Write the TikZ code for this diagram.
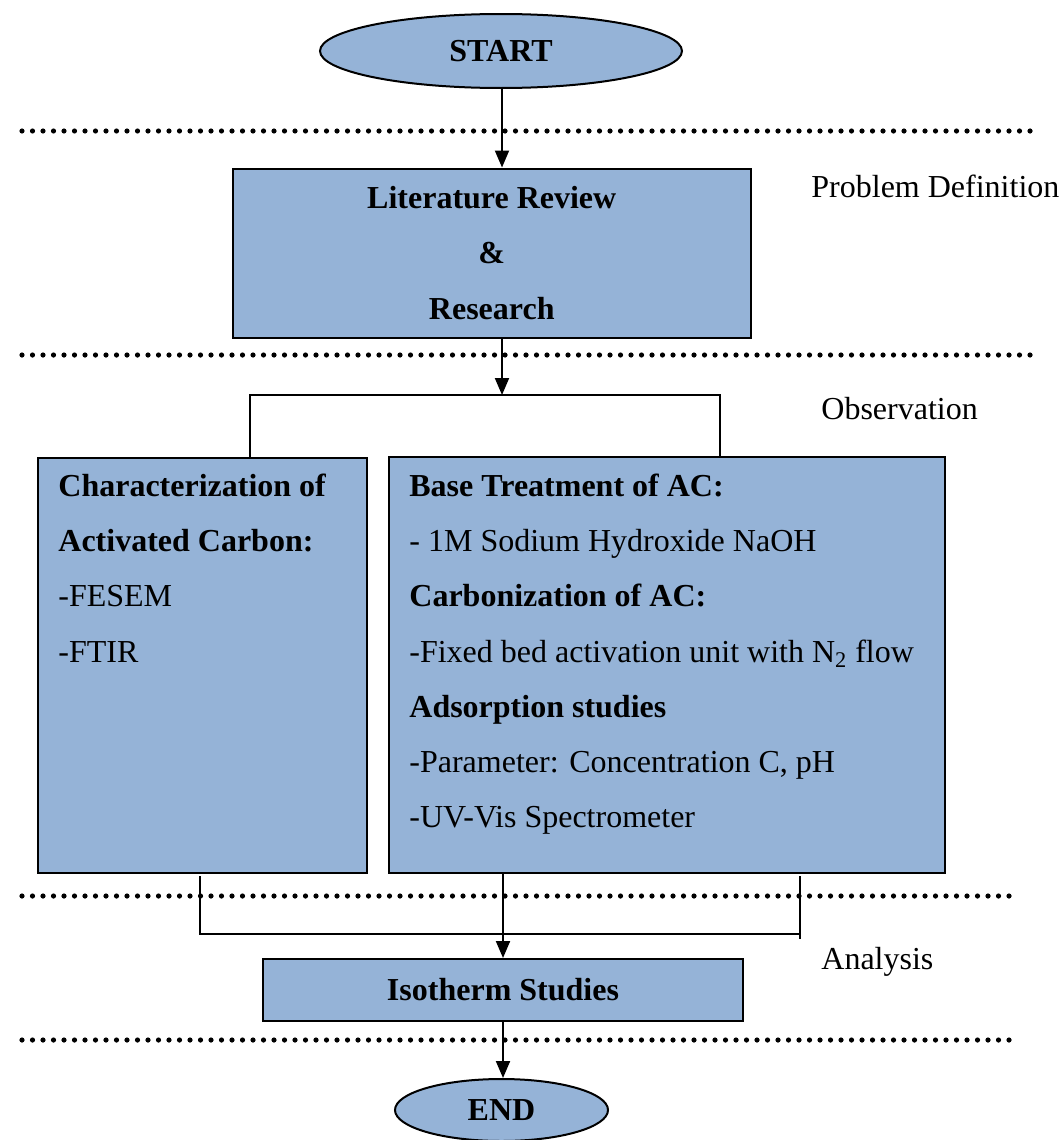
\documentclass[tikz,border=0pt]{standalone}
\usepackage{fontspec}
\setmainfont{Liberation Serif}
\usetikzlibrary{arrows.meta,shapes.geometric}
\definecolor{boxblue}{HTML}{95B3D7}
\begin{document}
\begin{tikzpicture}[x=0.5pt,y=-0.5pt,
  font=\fontsize{16}{27.65}\selectfont,
  blk/.style={draw=black, line width=1pt, fill=boxblue, inner sep=0pt},
  oval/.style={ellipse, draw=black, line width=1pt, fill=boxblue, inner sep=0pt},
  conn/.style={line width=1pt},
  arr/.style={conn, -{Triangle[width=7pt,length=8.5pt]}},
  sepline/.style={line width=2.6pt, line cap=round, dash pattern=on 0pt off 5.25pt},
  lbl/.style={anchor=base west, inner sep=0pt},
  txt/.style={align=left, anchor=north west, inner sep=0pt}]
\useasboundingbox (0,0) rectangle (1061,1140);

% separators
\draw[sepline] (22,131) -- (1032,131);
\draw[sepline] (22,355) -- (1032,355);
\draw[sepline] (22,896) -- (1010,896);
\draw[sepline] (22,1040) -- (1010,1040);

% nodes
\node[oval, minimum width=181pt, minimum height=37pt] (start) at (501,51) {\textbf{START}};
\node[blk, minimum width=259pt, minimum height=84.5pt, align=center] (lit) at (491.75,253)
  {\textbf{Literature Review}\\\textbf{\&}\\\textbf{Research}};
\node[blk, anchor=north west, minimum width=164.5pt, minimum height=207.5pt] (lbox) at (37,457) {};
\node[blk, anchor=north west, minimum width=278pt, minimum height=208pt] (rbox) at (388,456) {};
\node[txt] (ltext) at (58,457) {\strut\textbf{Characterization of}\\\textbf{Activated Carbon:}\\-FESEM\\-FTIR};
\node[txt] (rtext) at (409,457) {\strut\textbf{Base Treatment of AC:}\\- 1M Sodium Hydroxide NaOH\\\textbf{Carbonization of AC:}\\-Fixed bed activation unit with N\textsubscript{2} flow\\\textbf{Adsorption studies}\\-Parameter: Concentration C, pH\\-UV-Vis Spectrometer};
\node[blk, minimum width=240pt, minimum height=31pt] (iso) at (503,990) {\textbf{Isotherm Studies}};
\node[oval, minimum width=106.5pt, minimum height=31pt] (end) at (501.5,1110) {\textbf{END}};

% labels
\node[lbl] (pd) at (811,197) {Problem Definition};
\node[lbl] (obs) at (821,419) {Observation};
\node[lbl] (ana) at (821,969) {Analysis};

% connectors
\draw[arr] (start.south -| 502,0) -- (lit.north -| 502,0);
\coordinate (j1) at (502,395);
\coordinate (bl) at (250,395);
\coordinate (br) at (720,395);
\draw[arr] (lit.south -| j1) -- (j1);
\draw[conn] (bl |- lbox.north) -- (bl) -- (br) -- (br |- rbox.north);

\coordinate (c1) at (200,934);
\coordinate (c2) at (800,934);
\coordinate (c1t) at (200,876);
\coordinate (c2t) at (800,876);
\coordinate (c2b) at (800,939);
\draw[conn] (c1t) -- (c1) -- (c2);
\draw[conn] (c2t) -- (c2b);
\draw[arr] (rbox.south -| iso.north) -- (iso.north);
\draw[arr] (iso.south) -- (iso.south |- end.north);
\end{tikzpicture}
\end{document}
